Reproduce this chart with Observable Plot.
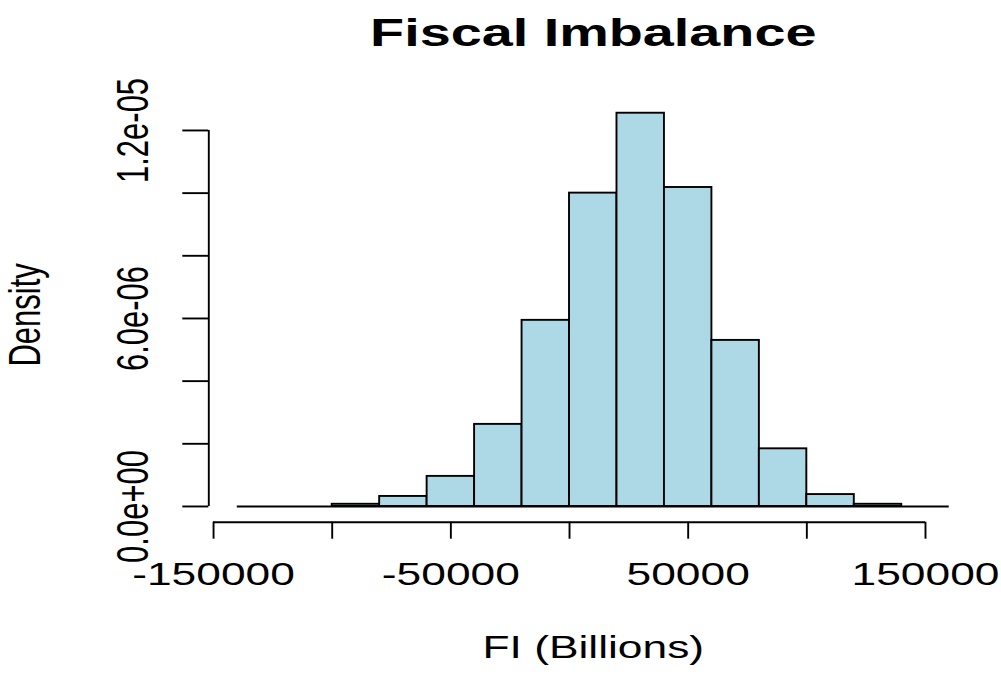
<!DOCTYPE html>
<html><head><meta charset="utf-8">
<script src="https://cdn.jsdelivr.net/npm/d3@7"></script>
<script src="https://cdn.jsdelivr.net/npm/@observablehq/plot@0.6"></script>
<style>html,body{margin:0;padding:0;background:#fff;overflow:hidden} svg{display:block}</style>
</head><body><div id="chart"></div>
<script>
// Histogram bins (FI, billions) and densities
const binEdges = [-140000, -120000, -100000, -80000, -60000, -40000, -20000, 0, 20000, 40000, 60000, 80000, 100000, 120000, 140000, 160000];
const densities = [0, 0, 0.07e-6, 0.32e-6, 0.96e-6, 2.62e-6, 5.94e-6, 10.0e-6, 12.55e-6, 10.18e-6, 5.30e-6, 1.84e-6, 0.38e-6, 0.07e-6, 0];

const xTicks = [-150000, -100000, -50000, 0, 50000, 100000, 150000];
const xLabelValues = [-150000, -50000, 50000, 150000];
const xLabels = ["-150000", "-50000", "50000", "150000"];
const yTicks = [0, 2e-6, 4e-6, 6e-6, 8e-6, 10e-6, 12e-6];
const yLabelValues = [0, 6e-6, 12e-6];
const yLabels = ["0.0e+00", "6.0e-06", "1.2e-05"];

const title = "Fiscal Imbalance";
const xTitle = "FI (Billions)";
const yTitle = "Density";

const bins = densities.map((d, i) => ({x1: binEdges[i], x2: binEdges[i + 1], density: d}));
const nonzero = bins.filter(b => b.density > 0);

const FONT = "'Liberation Sans', Arial, Helvetica, sans-serif";
const STRETCH = 1.43;
const BASE = 31;
const LW = 1.9;

const chart = Plot.plot({
  width: 1001, height: 679,
  marginTop: 97, marginBottom: 157.3, marginLeft: 208.3, marginRight: 23.8,
  style: {background: "#fff", fontFamily: FONT, color: "#000"},
  x: {domain: [-152000, 172000]},
  y: {domain: [-0.502e-6, 13.052e-6]},
  marks: [
    Plot.ruleY([0], {x1: binEdges[0], x2: binEdges[binEdges.length - 1], stroke: "#000", strokeWidth: LW}),
    Plot.rect(nonzero, {x1: "x1", x2: "x2", y1: () => 0, y2: "density", fill: "#add8e6", stroke: "#000", strokeWidth: LW}),
    // x axis
    Plot.ruleY([-0.502e-6], {x1: xTicks[0], x2: xTicks[xTicks.length - 1], stroke: "#000", strokeWidth: LW}),
    Plot.axisX({ticks: xTicks, tickSize: 17, tickFormat: () => "", label: null, stroke: "#000", strokeWidth: LW}),
    Plot.text(xLabelValues, {x: d => d, text: (d, i) => xLabels[i], frameAnchor: "bottom", dy: 62.8, fontSize: BASE, fill: "#000"}),
    // y axis
    Plot.ruleX([-152000], {y1: yTicks[0], y2: yTicks[yTicks.length - 1], stroke: "#000", strokeWidth: LW}),
    Plot.axisY({ticks: yTicks, tickSize: 26, tickFormat: () => "", label: null, stroke: "#000", strokeWidth: LW}),
    Plot.text(yLabelValues, {y: d => d, text: (d, i) => yLabels[i], frameAnchor: "left", dx: -74.8, rotate: -90, fontSize: BASE * STRETCH, fill: "#000"}),
    // titles
    Plot.text([yTitle], {text: d => d, frameAnchor: "left", dx: -183, dy: 5, rotate: -90, fontSize: BASE * STRETCH, fill: "#000"}),
    Plot.text([xTitle], {text: d => d, frameAnchor: "bottom", dy: 135.8, fontSize: BASE, fill: "#000"}),
    Plot.text([title], {text: d => d, frameAnchor: "top", dy: -79, fontSize: 39, fontWeight: "bold", fill: "#000"})
  ]
});

document.getElementById("chart").append(chart);
chart.querySelectorAll("text").forEach(t => {
  const s = t.textContent;
  if (!s || !s.trim()) return;
  const L = t.getComputedTextLength();
  const tr = t.getAttribute("transform") || "";
  const rot = tr.includes("rotate");
  const desired = rot ? L / STRETCH : L * STRETCH;
  const x0 = parseFloat(t.getAttribute("x") || "0");
  t.setAttribute("text-anchor", "start");
  t.setAttribute("x", x0 - desired / 2);
  t.setAttribute("lengthAdjust", "spacingAndGlyphs");
  t.setAttribute("textLength", desired);
});
</script>
</body></html>
